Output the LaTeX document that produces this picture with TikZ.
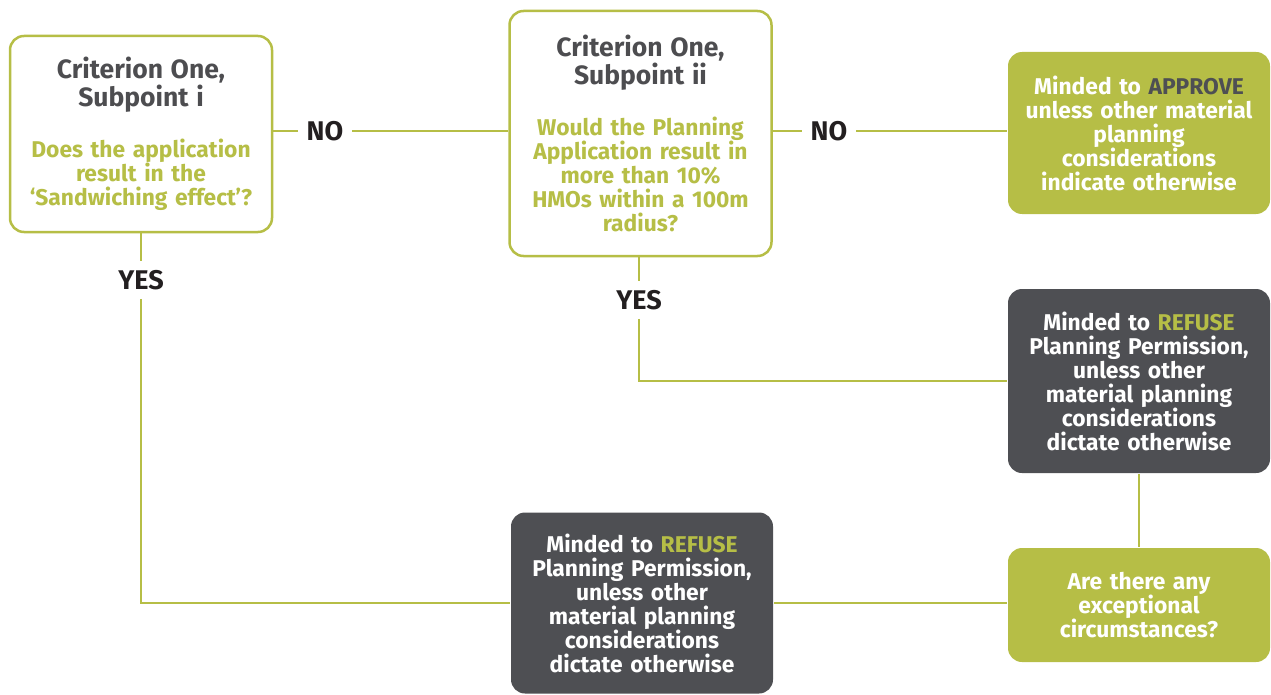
\documentclass[tikz,border=0pt]{standalone}
\usepackage{fontspec}
\setmainfont{Fira Sans}
\definecolor{lime}{RGB}{182,190,70}
\definecolor{slate}{RGB}{78,79,83}
\definecolor{ink}{RGB}{35,31,32}
\definecolor{headgray}{RGB}{77,77,80}
\newcommand\headfont{\fontsize{26.5}{28}\selectfont\bfseries}
\newcommand\bodyfont{\fontsize{22.8}{24}\selectfont\bfseries}
\newcommand\labfont{\fontsize{27}{28}\selectfont\bfseries}
\begin{document}
\begin{tikzpicture}[x=1pt,y=-1pt,
  box/.style={rounded corners=14pt, minimum width=262pt, text width=258pt, align=center, inner sep=0pt, line width=2.5pt, font=\bodyfont},
  qbox/.style={box, draw=lime, fill=white, text=lime},
  greenbox/.style={box, fill=lime, text=white},
  darkbox/.style={box, fill=slate, text=white},
  link/.style={draw=lime, line width=2.5pt},
  lab/.style={font=\labfont, text=ink, inner sep=0pt, outer sep=9pt}]
\useasboundingbox (0,0) rectangle (1271,695);

\node[qbox, minimum height=196pt] (c1) at (141,134)
  {{\headfont\textcolor{headgray}{Criterion One,\\Subpoint i}\par}\vspace{26pt}Does the application\\result in the\\‘Sandwiching effect’?};
\node[qbox, minimum height=245pt] (c2) at (640.5,133.5)
  {{\headfont\textcolor{headgray}{Criterion One,\\Subpoint ii}\par}\vspace{26pt}Would the Planning\\Application result in\\more than 10\%\\HMOs within a 100m\\radius?};
\node[greenbox, minimum height=162pt] (ap) at (1139,133)
  {Minded to \textcolor{slate}{APPROVE}\\unless other material\\planning\\considerations\\indicate otherwise};
\node[darkbox, minimum height=184pt] (rf1) at (1139,381)
  {Minded to \textcolor{lime}{REFUSE}\\Planning Permission,\\unless other\\material planning\\considerations\\dictate otherwise};
\node[greenbox, minimum height=114pt] (ex) at (1139,605)
  {Are there any\\exceptional\\circumstances?};
\node[darkbox, minimum height=181pt] (rf2) at (642,603)
  {Minded to \textcolor{lime}{REFUSE}\\Planning Permission,\\unless other\\material planning\\considerations\\dictate otherwise};

\node[lab] (no1) at (325,131) {NO};
\node[lab] (no2) at (829,131) {NO};
\node[lab] (yes1) at (141,280) {YES};
\node[lab] (yes2) at (639,300) {YES};

\draw[link] (c1.east |- no1) -- (no1.west);
\draw[link] (no1.east) -- (c2.west |- no1);
\draw[link] (c2.east |- no2) -- (no2.west);
\draw[link] (no2.east) -- (ap.west |- no2);
\draw[link] (c1.south) -- (yes1.north);
\draw[link] (yes1.south) |- (rf2.west);
\draw[link] (c2.south -| yes2) -- (yes2.north);
\draw[link] (yes2.south) |- (rf1.west);
\draw[link] (rf1.south) -- (ex.north);
\draw[link] (ex.west |- rf2.east) -- (rf2.east);
\end{tikzpicture}
\end{document}
